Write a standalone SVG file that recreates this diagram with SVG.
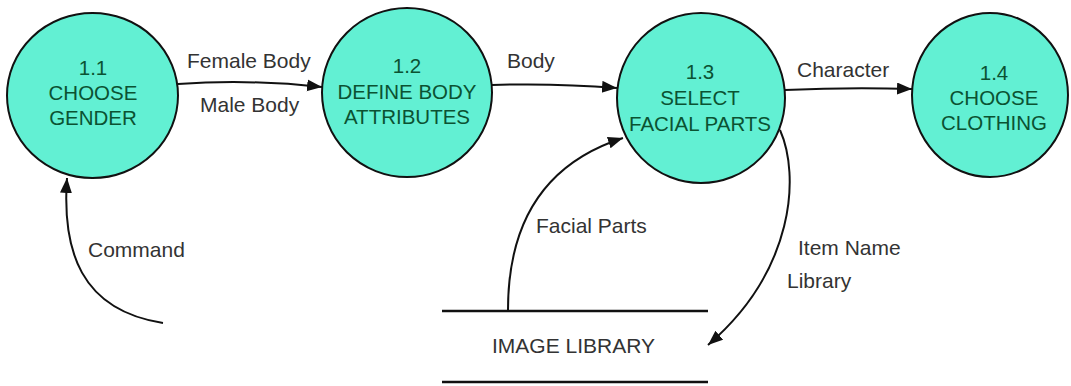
<svg xmlns="http://www.w3.org/2000/svg" width="1071" height="386" viewBox="0 0 1071 386">
<style>
.node{fill:#62F0D3;stroke:#111;stroke-width:2}
.nt{font-family:"Liberation Sans",Arial,sans-serif;font-size:20.5px;fill:#0b5232;text-anchor:middle}
.lbl{font-family:"Liberation Sans",Arial,sans-serif;font-size:21px;fill:#333}
.conn{fill:none;stroke:#111;stroke-width:2}
.store{stroke:#111;stroke-width:2.5}
</style>
<defs>
<marker id="arr" markerUnits="userSpaceOnUse" markerWidth="16" markerHeight="14" refX="15" refY="6" orient="auto">
<path d="M0,0 L15,6 L0,12 Z" fill="#111"/>
</marker>
</defs>
<rect width="1071" height="386" fill="#fff"/>
<g id="connectors">
<path class="conn" d="M178,84 Q250,79 322,87" marker-end="url(#arr)"/>
<path class="conn" d="M492,85 Q555,83 617,88" marker-end="url(#arr)"/>
<path class="conn" d="M785,90 Q850,87 912,89" marker-end="url(#arr)"/>
<path class="conn" d="M508,310 Q508,175 623,138" marker-end="url(#arr)"/>
<path class="conn" d="M780,130 C800,175 795,270 708,345" marker-end="url(#arr)"/>
<path class="conn" d="M163,323 C80,310 62,250 67,178" marker-end="url(#arr)"/>
<text class="lbl" x="187" y="68">Female Body</text>
<text class="lbl" x="200" y="112">Male Body</text>
<text class="lbl" x="507" y="68">Body</text>
<text class="lbl" x="797" y="77">Character</text>
<text class="lbl" x="536" y="233">Facial Parts</text>
<text class="lbl" x="798" y="255">Item Name</text>
<text class="lbl" x="787" y="288">Library</text>
<text class="lbl" x="88" y="257">Command</text>
</g>
<g id="n11">
<ellipse class="node" cx="92.5" cy="95.5" rx="85.5" ry="82.5"/>
<text class="nt" x="93" y="75">1.1</text>
<text class="nt" x="93" y="100">CHOOSE</text>
<text class="nt" x="93" y="125">GENDER</text>
</g>
<g id="n12">
<ellipse class="node" cx="407" cy="92.5" rx="85" ry="84.5"/>
<text class="nt" x="407" y="73">1.2</text>
<text class="nt" x="407" y="99">DEFINE BODY</text>
<text class="nt" x="407" y="124">ATTRIBUTES</text>
</g>
<g id="n13">
<ellipse class="node" cx="701" cy="98" rx="84" ry="85"/>
<text class="nt" x="700" y="79">1.3</text>
<text class="nt" x="700" y="105">SELECT</text>
<text class="nt" x="700" y="131">FACIAL PARTS</text>
</g>
<g id="n14">
<ellipse class="node" cx="990" cy="95" rx="78" ry="82"/>
<text class="nt" x="994" y="80">1.4</text>
<text class="nt" x="994" y="105">CHOOSE</text>
<text class="nt" x="994" y="130">CLOTHING</text>
</g>
<g id="store">
<line class="store" x1="442" y1="311" x2="708" y2="311"/>
<line class="store" x1="442" y1="382" x2="708" y2="382"/>
<text class="lbl" x="492" y="353">IMAGE LIBRARY</text>
</g>
</svg>
